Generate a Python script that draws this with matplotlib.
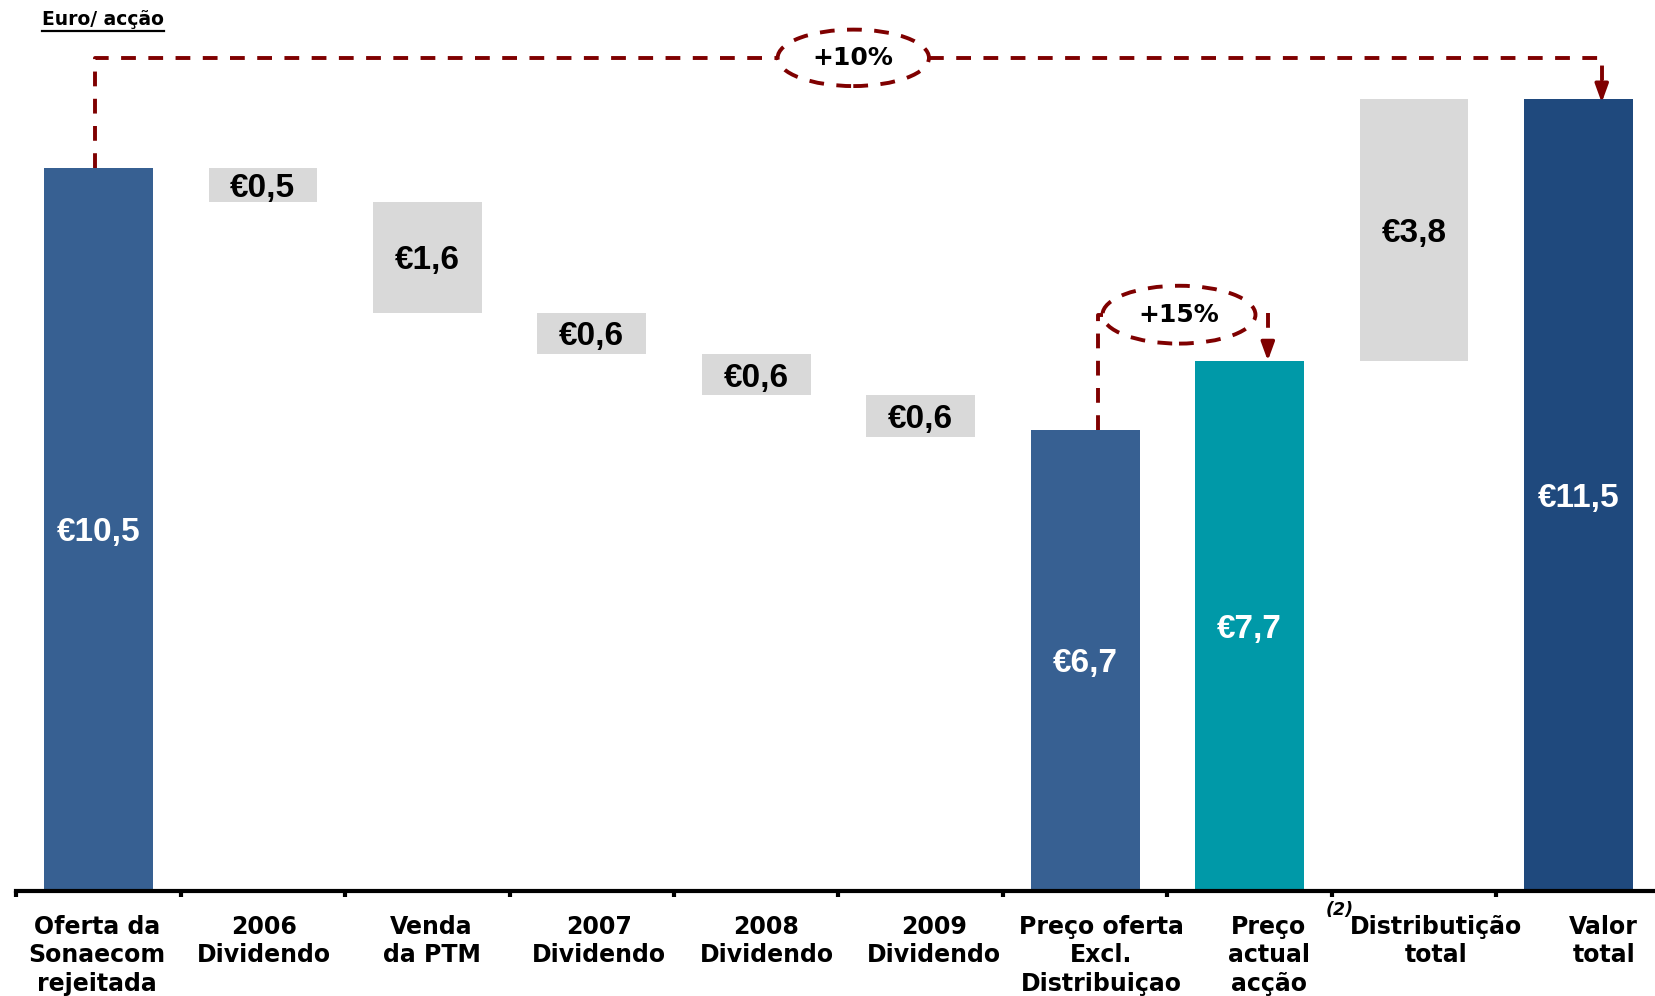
import numpy as np
import matplotlib.pyplot as plt
from matplotlib.patches import Ellipse

# data (Euro per share)
categories = ['Oferta da\nSonaecom\nrejeitada', '2006\nDividendo', 'Venda\nda PTM',
              '2007\nDividendo', '2008\nDividendo', '2009\nDividendo',
              'Preço oferta\nExcl.\nDistribuiçao', 'Preço\nactual\nacção',
              'Distributição\ntotal', 'Valor\ntotal']
offer = 10.5
deductions = [0.5, 1.6, 0.6, 0.6, 0.6]
offer_ex = 6.7
current_price = 7.7
distribution = 3.8
total_value = 11.5
value_labels = ['€10,5', '€0,5', '€1,6', '€0,6', '€0,6', '€0,6',
                '€6,7', '€7,7', '€3,8', '€11,5']
pct_total = '+10%'
pct_price = '+15%'

# waterfall geometry
steps = offer - np.cumsum(deductions)
heights = [offer] + deductions + [offer_ex, current_price, distribution, total_value]
bottoms = [0] + list(steps) + [0, 0, current_price, 0]

blue = '#376092'
navy = '#1F497D'
teal = '#0099A8'
grey = '#D9D9D9'
red = '#7F0000'
colors = [blue] + [grey] * 5 + [blue, teal, grey, navy]
txt_colors = ['white'] + ['black'] * 5 + ['white', 'white', 'black', 'white']

fig = plt.figure(figsize=(16.56, 9.96), dpi=100)
ax = fig.add_axes([0.0097, 0.1054, 0.9903, 0.8946])

x = np.arange(len(heights))
ax.bar(x, heights, bottom=bottoms, width=0.66, color=colors, zorder=2)

for xi, h, b, lab, c in zip(x, heights, bottoms, value_labels, txt_colors):
    ax.text(xi, b + h / 2 - 0.05, lab, ha='center', va='center', color=c,
            fontsize=24, fontweight='bold', family='Liberation Sans', zorder=3)

ax.set_xlim(-0.5, 9.47)
ax.set_ylim(0, 12.94)

for s in ['top', 'right', 'left']:
    ax.spines[s].set_visible(False)
ax.spines['bottom'].set_linewidth(3)
ax.spines['bottom'].set_zorder(4)
ax.set_yticks([])

# ticks at category boundaries, labels at centres
ax.set_xticks(np.arange(-0.5, 9.0, 1.0))
ax.set_xticklabels([])
ax.tick_params(axis='x', which='major', length=4, width=3, direction='out')
ax.set_xticks(x * 1.018 - 0.01, minor=True)
ax.set_xticklabels(categories, minor=True, fontsize=17, fontweight='bold',
                   family='DejaVu Sans', linespacing=1.25)
ax.tick_params(axis='x', which='minor', length=0, pad=17)

ax.text(7.55, -0.021, '(2)', transform=ax.get_xaxis_transform(), ha='center',
        va='center', fontsize=12.5, fontweight='bold', style='italic')

# dashed connectors
dash = dict(color=red, lw=2.8, ls=(0, (3.8, 3.2)), zorder=3)
y_top = 12.1
e1 = (4.59, y_top, 0.92, 0.82)
ax.plot([-0.02, -0.02, e1[0] - e1[2] / 2], [offer, y_top, y_top], **dash)
ax.plot([e1[0] + e1[2] / 2, 9.14, 9.14], [y_top, y_top, 11.75], **dash)
ax.add_patch(Ellipse(e1[:2], e1[2], e1[3], fill=False, ec=red, lw=2.8,
                     ls=(0, (3.8, 3.2)), zorder=3))
ax.text(e1[0], e1[1], pct_total, ha='center', va='center', fontsize=18,
        family='DejaVu Sans', fontweight='bold', zorder=4)
ax.annotate('', xy=(9.14, total_value - 0.05), xytext=(9.14, 11.76),
            arrowprops=dict(arrowstyle='-|>,head_length=0.55,head_width=0.2',
                            color=red, lw=2.5, shrinkA=0, shrinkB=0,
                            mutation_scale=20), zorder=4)

y_mid = 8.37
e2 = (6.57, y_mid, 0.93, 0.84)
ax.plot([6.08, 6.08, e2[0] - e2[2] / 2], [offer_ex, y_mid, y_mid], **dash)
ax.plot([7.11, 7.11], [y_mid + 0.02, 7.95], **dash)
ax.add_patch(Ellipse(e2[:2], e2[2], e2[3], fill=False, ec=red, lw=2.8,
                     ls=(0, (3.8, 3.2)), zorder=3))
ax.text(e2[0], e2[1], pct_price, ha='center', va='center', fontsize=18,
        family='DejaVu Sans', fontweight='bold', zorder=4)
ax.annotate('', xy=(7.11, current_price), xytext=(7.11, 7.96),
            arrowprops=dict(arrowstyle='-|>,head_length=0.55,head_width=0.2',
                            color=red, lw=2.5, shrinkA=0, shrinkB=0,
                            mutation_scale=20), zorder=4)

# unit label, underlined
t = fig.text(42 / 1656, 1 - 25 / 996, 'Euro/ acção', fontsize=13.5,
             fontweight='bold', va='baseline', ha='left')
fig.canvas.draw()
bb = t.get_window_extent()
fig.add_artist(plt.Line2D([bb.x0 / 1656, bb.x1 / 1656],
                          [(bb.y0 - 2) / 996, (bb.y0 - 2) / 996],
                          color='black', lw=1.6))

fig.savefig('out.png', dpi=100)
